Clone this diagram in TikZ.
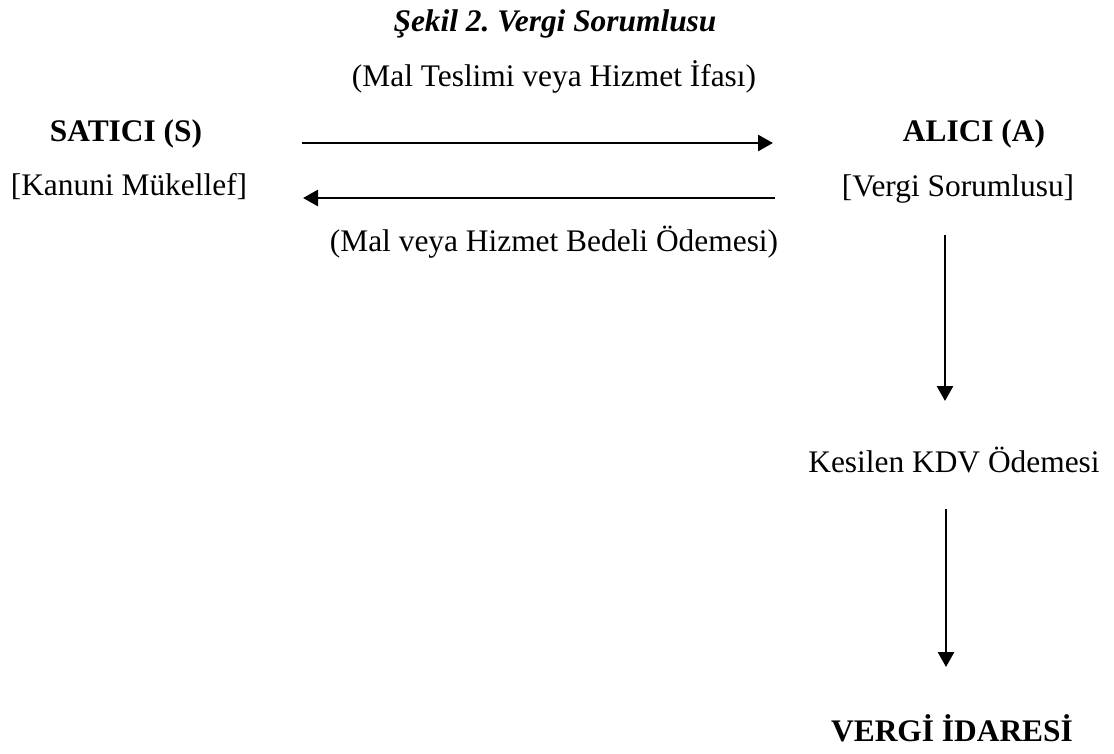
\documentclass[tikz,border=0pt]{standalone}
\usepackage{fontspec}
\setmainfont{Liberation Serif}
\usetikzlibrary{arrows.meta}
\frenchspacing

\begin{document}
\begin{tikzpicture}[
    x=0.5pt, y=-0.5pt,
    lbl/.style={inner sep=0pt, anchor=base, font=\fontsize{15.7}{18}\selectfont},
    party/.style={lbl, font=\fontsize{15.7}{18}\selectfont\bfseries},
    flow/.style={line width=1.35pt, -{Triangle[length=7.5pt,width=8pt]}},
]
\useasboundingbox (0,0) rectangle (1114,754);
% titles
\node[party] (title) at (555,32) {\itshape Şekil 2. Vergi Sorumlusu};
\node[lbl] (teslim) at (554,87) {(Mal Teslimi veya Hizmet İfası)};
% seller and buyer
\node[party] (satici) at (126,142) {SATICI (S)};
\node[lbl]   (kanuni) at (129,196) {[Kanuni Mükellef]};
\node[party] (alici) at (974,142) {ALICI (A)};
\node[lbl]   (sorumlu) at (958,197) {[Vergi Sorumlusu]};
\node[lbl] (bedel) at (554,252) {(Mal veya Hizmet Bedeli Ödemesi)};
% tax office
\node[lbl] (kdv) at (954,472) {Kesilen KDV Ödemesi};
\node[party] (idare) at (952,741) {VERGİ İDARESİ};
% arrow ends
\coordinate (teslimS) at (302,143);
\coordinate (teslimA) at (773,143);
\coordinate (bedelA) at (775,198);
\coordinate (bedelS) at (303,198);
\coordinate (kdvTop) at (945,235);
\coordinate (kdvBot) at (945,401);
\coordinate (idareTop) at (946,509);
\coordinate (idareBot) at (946,667);
\draw[flow] (teslimS) -- (teslimA);
\draw[flow] (bedelA) -- (bedelS);
\draw[flow] (kdvTop) -- (kdvBot);
\draw[flow] (idareTop) -- (idareBot);
\end{tikzpicture}
\end{document}
